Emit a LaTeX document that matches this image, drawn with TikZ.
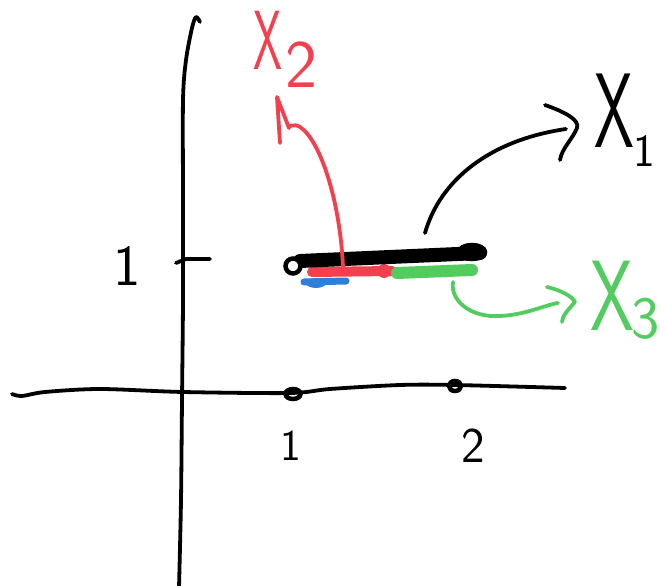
\documentclass[tikz,border=0pt]{standalone}
\usepackage{graphicx}
\usetikzlibrary{arrows.meta}
\definecolor{penred}{HTML}{F2404F}
\definecolor{pengreen}{HTML}{52CC5E}
\definecolor{penblue}{HTML}{2E7FD8}
\begin{document}
\begin{tikzpicture}[x=1pt,y=-1pt,
  pen/.style={line width=3.8pt,line cap=round,line join=round},
  lbl/.style={inner sep=0pt,anchor=base west,font=\sffamily},
  num/.style={inner sep=0pt,font=\sffamily}]
\useasboundingbox (0,0) rectangle (665,586);
% axes
\draw[pen] plot[smooth] coordinates {(200,22) (196,17) (192,28) (186,60) (183,100) (183,200) (183,300) (182,400) (181,500) (179,588)};
\draw[pen] plot[smooth] coordinates {(12,394) (22,396) (45,392) (100,389) (183,392) (290,393) (330,389) (400,385) (455,385) (565,388)};
% tick at y=1
\draw[pen] (176,263) -- (186,259) -- (210,259);
\node[num,font=\sffamily\fontsize{58}{58}\selectfont] (ylab) at (127,266) {1};
% points on x axis
\draw[line width=4.5pt] (293,394) ellipse [x radius=7.5pt,y radius=5pt];
\draw[line width=4.5pt] (455,386) ellipse [x radius=6pt,y radius=5pt];
\node[num,font=\sffamily\fontsize{44}{44}\selectfont] (xone) at (291,446) {1};
\node[num,font=\sffamily\fontsize{50}{50}\selectfont] (xtwo) at (473,446) {2};
% coloured segments
\draw[line width=7pt,line cap=round,penblue] (304,282) -- (346,281);
\fill[penblue] (316,283) ellipse [x radius=10pt,y radius=5pt];
\draw[line width=10pt,line cap=round,penred] (312,272) -- (392,271);
\fill[penred] (384,271) circle (7pt);
\draw[line width=12pt,line cap=round,pengreen] (397,273) -- (472,270);
% black segment
\draw[line width=14pt,line cap=round] (300,261) -- (480,253);
\draw[line width=4.5pt,fill=white] (293,266) circle (7.5pt);
\draw[line width=4.5pt] (472,252) ellipse [x radius=13pt,y radius=7pt];
% named points
\coordinate (redstart) at (343,267);
\coordinate (redhook) at (289,128);
\coordinate (redtip) at (277,97);
\coordinate (redbarb) at (280,143);
\coordinate (blkstart) at (425,233);
\coordinate (blkend) at (566,129);
\coordinate (blkb1) at (545,105);
\coordinate (blktip) at (577,128);
\coordinate (blkb2) at (560,160);
\coordinate (grnstart) at (453,282);
\coordinate (grnend) at (558,303);
\coordinate (grnb1) at (547,287);
\coordinate (grntip) at (575,302);
\coordinate (grnb2) at (562,322);
% red arrow to X2
\draw[pen,penred] (redstart) .. controls (340,200) and (320,140) .. (300,127) .. controls (294,123) and (287,127) .. (redhook);
\draw[pen,penred] (redbarb) -- (redtip) -- (redhook);
\node[lbl,text=penred,font=\sffamily\fontsize{84}{84}\selectfont] (x2) at (253,70)
  {\scalebox{0.55}[1]{X}\kern3pt\raisebox{-18pt}{\fontsize{68}{68}\selectfont 2}};
% black arrow to X1
\draw[pen] (blkstart) .. controls (440,180) and (490,140) .. (blkend);
\draw[pen] (blkb1) .. controls (565,112) and (580,120) .. (blktip) .. controls (572,140) and (562,148) .. (blkb2);
\node[lbl,font=\sffamily\fontsize{106}{106}\selectfont] (x1) at (594,148)
  {\scalebox{0.6}[1]{X}\kern0pt\raisebox{-19pt}{\fontsize{46}{46}\selectfont 1}};
% green arrow to X3
\draw[pen,pengreen] (grnstart) .. controls (450,300) and (470,318) .. (500,316) .. controls (525,315) and (545,305) .. (grnend);
\draw[pen,pengreen] (grnb1) .. controls (560,290) and (572,296) .. (grntip) .. controls (568,310) and (562,316) .. (grnb2);
\node[lbl,text=pengreen,font=\sffamily\fontsize{100}{100}\selectfont] (x3) at (590,330)
  {\scalebox{0.7}[1]{X}\kern-2pt\raisebox{-8pt}{\fontsize{60}{60}\selectfont 3}};
\end{tikzpicture}
\end{document}
